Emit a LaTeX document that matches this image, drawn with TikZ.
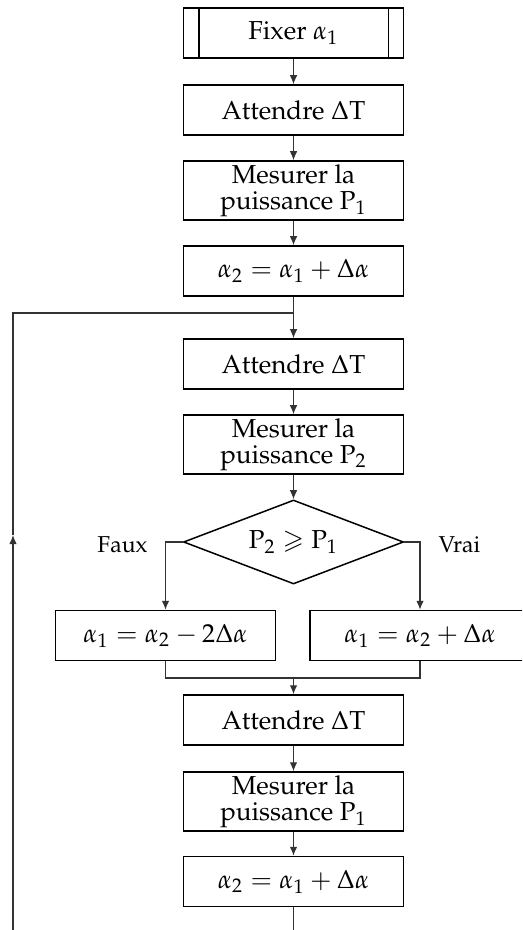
\documentclass[tikz,border=0pt]{standalone}
\usepackage[T1]{fontenc}
\usepackage{amssymb}
\usepackage{mathpazo}
\usetikzlibrary{arrows.meta,shapes.geometric}
\begin{document}
\begin{tikzpicture}[x=0.4pt,y=-0.4pt,
  box/.style={draw,line width=0.6pt,minimum width=88pt,minimum height=20pt,inner sep=1pt,align=center,font=\fontsize{10.4}{10.4}\selectfont},
  box2/.style={box,minimum height=23.6pt},
  dec/.style={diamond,draw,line width=0.6pt,minimum width=88pt,minimum height=33.6pt,inner sep=0pt,aspect=2.6,font=\fontsize{10.4}{10.4}\selectfont},
  conn/.style={line width=0.45pt,draw=black!80},
  arr/.style={conn,-{Latex[length=3.6pt,width=3pt]}},
  lab/.style={font=\fontsize{9.2}{10}\selectfont,inner sep=0pt}]
\useasboundingbox (0,0) rectangle (522,930);
\clip (0,0) rectangle (522,930);
\node[box] (b1) at (293.5,33) {Fixer $\alpha_1$};
\draw[line width=0.6pt] ([xshift=6.4pt]b1.north west) -- ([xshift=6.4pt]b1.south west);
\draw[line width=0.6pt] ([xshift=-6.4pt]b1.north east) -- ([xshift=-6.4pt]b1.south east);
\node[box] (b2) at (293.5,110) {Attendre $\Delta\mathrm{T}$};
\node[box2] (b3) at (293.5,190.5) {Mesurer la\\puissance $\mathrm{P}_1$};
\node[box] (b4) at (293.5,271) {$\alpha_2=\alpha_1+\Delta\alpha$};
\coordinate (j) at (293.5,313);
\node[box] (b5) at (293.5,364) {Attendre $\Delta\mathrm{T}$};
\node[box2] (b6) at (293.5,444.5) {Mesurer la\\puissance $\mathrm{P}_2$};
\node[dec] (d) at (293.5,542) {$\mathrm{P}_2\geqslant \mathrm{P}_1$};
\node[box] (l) at (165.5,635.5) {$\alpha_1=\alpha_2-2\Delta\alpha$};
\node[box] (r) at (420,635.5) {$\alpha_1=\alpha_2+\Delta\alpha$};
\coordinate (m) at (293.5,678);
\node[box] (b7) at (293.5,720) {Attendre $\Delta\mathrm{T}$};
\node[box2] (b8) at (293.5,801.5) {Mesurer la\\puissance $\mathrm{P}_1$};
\node[box] (b9) at (293.5,881.5) {$\alpha_2=\alpha_1+\Delta\alpha$};
\coordinate (e) at (293.5,940);
\coordinate (le) at (13,940);
\coordinate (la) at (13,535);
\coordinate (lt) at (13,313);
\node[lab,anchor=base east] (fx) at (148,552) {Faux};
\node[lab,anchor=base west] (vr) at (438,552) {Vrai};
\draw[arr] (b1) -- (b2);
\draw[arr] (b2) -- (b3);
\draw[arr] (b3) -- (b4);
\draw[arr] (b4) -- (b5);
\draw[arr] (b5) -- (b6);
\draw[arr] (b6) -- (d);
\draw[arr] (d.west) -| (l.north);
\draw[arr] (d.east) -| (r.north);
\draw[conn] (l.south) |- (m) -| (r.south);
\draw[arr] (m) -- (b7);
\draw[arr] (b7) -- (b8);
\draw[arr] (b8) -- (b9);
\draw[conn] (b9) -- (e);
\draw[arr] (le) -- (la);
\draw[conn] (la) -- (lt) -- (j);
\end{tikzpicture}
\end{document}
